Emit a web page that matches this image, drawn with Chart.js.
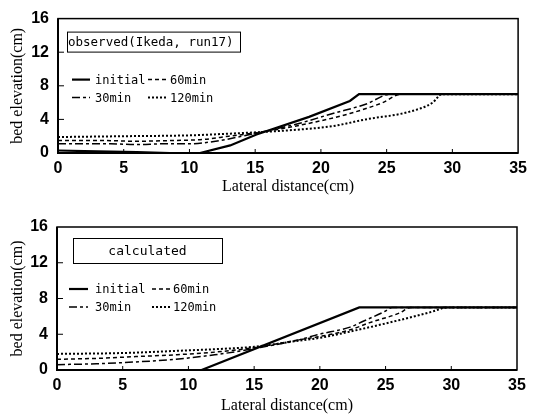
<!DOCTYPE html>
<html>
<head>
<meta charset="utf-8">
<script src="https://cdn.jsdelivr.net/npm/chart.js@4/dist/chart.umd.min.js"></script>
<style>
  html, body { margin: 0; padding: 0; background: #fff; }
  body { width: 533px; height: 417px; position: relative; overflow: hidden; }
  .wrap { position: absolute; left: 0; width: 533px; }
  #w1 { top: 0; height: 205px; }
  #w2 { top: 205px; height: 212px; }
  canvas { display: block; }
</style>
</head>
<body>
<div class="wrap" id="w1"><canvas id="c1" width="533" height="205"></canvas></div>
<div class="wrap" id="w2"><canvas id="c2" width="533" height="212"></canvas></div>
<script>
// ---------- data ----------
const seriesLabels = ['initial', '30min', '60min', '120min'];
const xTicks = [0, 5, 10, 15, 20, 25, 30, 35];
const yTicks = [0, 4, 8, 12, 16];

// observed (Ikeda, run17)
const obsInitialX = [0, 3, 6, 8.5, 10.8, 13.1, 15.1, 19.1, 22.2, 22.9, 35];
const obsInitialY = [0.3, 0.2, 0.1, 0, 0, 0.9, 2.2, 4.3, 6.2, 7, 7];
const obs30X = [0, 2, 4, 6, 8, 10, 12, 14, 15.5, 18.4, 20.9, 23.4, 25.3, 35];
const obs30Y = [1.1, 1.1, 1.1, 1.0, 1.1, 1.1, 1.4, 2.0, 2.5, 3.55, 4.7, 5.8, 7, 7];
const obs60X = [0, 3, 6, 9, 11, 13, 15.5, 19.6, 22.2, 24.7, 26.1, 35];
const obs60Y = [1.5, 1.5, 1.4, 1.5, 1.6, 2.0, 2.5, 3.7, 4.7, 6.0, 7, 7];
const obs120X = [0, 5, 10, 13, 15.5, 18.4, 20.9, 23.4, 26.7, 28.5, 29.2, 35];
const obs120Y = [1.9, 2.0, 2.1, 2.3, 2.5, 2.8, 3.2, 4.0, 4.9, 6.0, 7, 7];

// calculated
const calInitialX = [0, 11, 23, 35];
const calInitialY = [0, 0, 7, 7];
const cal30X = [0, 3, 6, 9, 12, 15, 18.5, 19.8, 22.3, 23.3, 25, 25.5, 35];
const cal30Y = [0.6, 0.7, 0.9, 1.2, 1.7, 2.4, 3.4, 3.95, 4.8, 5.45, 6.6, 7, 7];
const cal60X = [0, 3, 6, 9, 12, 15, 18.5, 20, 22.3, 23.8, 26.1, 26.9, 35];
const cal60Y = [1.2, 1.3, 1.5, 1.7, 2.0, 2.5, 3.4, 3.75, 4.5, 5.3, 6.4, 7, 7];
const cal120X = [0, 5, 10, 13, 15, 18.5, 20, 22.3, 26.1, 28.6, 29.7, 35];
const cal120Y = [1.8, 1.9, 2.2, 2.4, 2.6, 3.3, 3.6, 4.3, 5.6, 6.55, 7, 7];

// ---------- helpers ----------
const pts = (xs, ys) => xs.map((x, i) => ({ x: x, y: ys[i] }));
const STYLES = {
  'initial': { dash: [], width: 2.2, tension: 0 },
  '30min': { dash: [8, 3, 3, 3], width: 1.5, tension: 0.3 },
  '60min': { dash: [4, 3], width: 1.5, tension: 0.3 },
  '120min': { dash: [2, 2], width: 2, tension: 0.3 }
};
function makeDatasets(arr) {
  return arr.map(([label, xs, ys]) => ({
    label: label,
    data: pts(xs, ys),
    borderColor: '#000',
    backgroundColor: '#000',
    borderWidth: STYLES[label].width,
    borderDash: STYLES[label].dash,
    pointRadius: 0,
    tension: STYLES[label].tension,
    cubicInterpolationMode: label === 'initial' ? 'default' : 'monotone',
    fill: false
  }));
}

const TICK_FONT = { family: "'Liberation Sans Narrow', 'Arial Narrow', 'Liberation Sans', sans-serif", size: 16, weight: 'bold' };
const TITLE_FONT = { family: "'Liberation Serif', 'Times New Roman', serif", size: 16 };
const MONO = "'DejaVu Sans Mono', 'Liberation Mono', monospace";

// decoration plugin: frame, inward ticks, in-plot caption box and legend
function decoPlugin(cfg) {
  return {
    id: 'deco',
    afterDraw(chart) {
      const ctx = chart.ctx;
      const a = chart.chartArea;
      const xs = chart.scales.x, ys = chart.scales.y;
      ctx.save();
      // frame
      ctx.strokeStyle = '#000';
      ctx.lineWidth = 1.5;
      ctx.setLineDash([]);
      ctx.strokeRect(a.left, a.top, a.right - a.left, a.bottom - a.top);
      ctx.lineWidth = 2;
      ctx.beginPath();
      ctx.moveTo(a.left, a.top); ctx.lineTo(a.left, a.bottom); ctx.lineTo(a.right, a.bottom);
      ctx.stroke();
      // inward ticks
      ctx.lineWidth = 1;
      ctx.beginPath();
      xTicks.slice(1, -1).forEach(v => {
        const px = xs.getPixelForValue(v);
        ctx.moveTo(px, a.bottom); ctx.lineTo(px, a.bottom - 4);
      });
      yTicks.slice(1, -1).forEach(v => {
        const py = ys.getPixelForValue(v);
        ctx.moveTo(a.left, py); ctx.lineTo(a.left + 6, py);
      });
      ctx.stroke();
      // caption box
      ctx.fillStyle = '#fff';
      ctx.fillRect(a.left + cfg.box[0], a.top + cfg.box[1], cfg.box[2], cfg.box[3]);
      ctx.lineWidth = 1;
      ctx.strokeRect(a.left + cfg.box[0] + 0.5, a.top + cfg.box[1] + 0.5, cfg.box[2], cfg.box[3]);
      ctx.fillStyle = '#000';
      ctx.font = cfg.capFont + ' ' + MONO;
      ctx.textBaseline = 'middle';
      ctx.textAlign = cfg.capAlign;
      const cx = cfg.capAlign === 'center' ? a.left + cfg.box[0] + cfg.box[2] / 2 : a.left + cfg.box[0] + 1;
      ctx.fillText(cfg.caption, cx, a.top + cfg.box[1] + cfg.box[3] / 2 + 1);
      // legend
      ctx.font = '12px ' + MONO;
      ctx.textAlign = 'left';
      const order = [['initial', 0, 0], ['60min', 1, 0], ['30min', 0, 1], ['120min', 1, 1]];
      order.forEach(([lab, col, row]) => {
        const ds = chart.data.datasets.find(d => d.label === lab);
        const y = a.top + cfg.rows[row];
        const x0 = a.left + cfg.cols[col][0], x1 = a.left + cfg.cols[col][1];
        ctx.strokeStyle = '#000';
        ctx.lineWidth = ds.borderWidth;
        ctx.setLineDash(ds.borderDash);
        ctx.beginPath(); ctx.moveTo(x0, y); ctx.lineTo(x1, y); ctx.stroke();
        ctx.setLineDash([]);
        ctx.fillText(lab, a.left + cfg.cols[col][2], y + 1);
      });
      ctx.restore();
    }
  };
}

function makeChart(canvasId, datasets, area, deco) {
  // area: [left, top, right, bottom] of plot area inside its canvas
  const canvas = document.getElementById(canvasId);
  const W = canvas.width, H = canvas.height;
  return new Chart(canvas, {
    type: 'line',
    data: { datasets: datasets },
    options: {
      responsive: false,
      animation: false,
      devicePixelRatio: 1,
      layout: { padding: { left: 0, top: area[1], right: W - area[2], bottom: 0 } },
      plugins: { legend: { display: false }, tooltip: { enabled: false } },
      scales: {
        x: {
          type: 'linear', min: 0, max: 35,
          afterBuildTicks: s => { s.ticks = xTicks.map(v => ({ value: v })); },
          afterFit: s => { s.height = H - area[3]; },
          grid: { display: false, drawTicks: false },
          border: { display: false },
          ticks: { color: '#000', font: TICK_FONT, padding: area[4], maxRotation: 0, autoSkip: false },
          title: { display: true, text: 'Lateral distance(cm)', color: '#000', font: TITLE_FONT, padding: { top: 0, bottom: area[5] } }
        },
        y: {
          type: 'linear', min: 0, max: 16,
          afterBuildTicks: s => { s.ticks = yTicks.map(v => ({ value: v })); },
          afterFit: s => { s.width = area[0]; },
          grid: { display: false, drawTicks: false },
          border: { display: false },
          ticks: { color: '#000', font: TICK_FONT, padding: 9, autoSkip: false },
          title: { display: true, text: 'bed elevation(cm)', color: '#000', font: TITLE_FONT, padding: { top: 8, bottom: 0 } }
        }
      }
    },
    plugins: [decoPlugin(deco)]
  });
}

makeChart('c1', makeDatasets([
  ['initial', obsInitialX, obsInitialY],
  ['30min', obs30X, obs30Y],
  ['60min', obs60X, obs60Y],
  ['120min', obs120X, obs120Y]
]), [58, 12, 519, 153, 6, 9], {
  box: [9, 13, 173, 20], caption: 'observed(Ikeda, run17)', capFont: '12.5px', capAlign: 'left',
  rows: [61, 79], cols: [[14, 32, 37], [90, 110, 112]]
});

makeChart('c2', makeDatasets([
  ['initial', calInitialX, calInitialY],
  ['30min', cal30X, cal30Y],
  ['60min', cal60X, cal60Y],
  ['120min', cal120X, cal120Y]
]), [57, 22, 517, 165, 6, 2], {
  box: [16, 11, 149, 25], caption: 'calculated', capFont: '13px', capAlign: 'center',
  rows: [62, 80], cols: [[12, 31, 38], [95, 115, 116]]
});
</script>
</body>
</html>
